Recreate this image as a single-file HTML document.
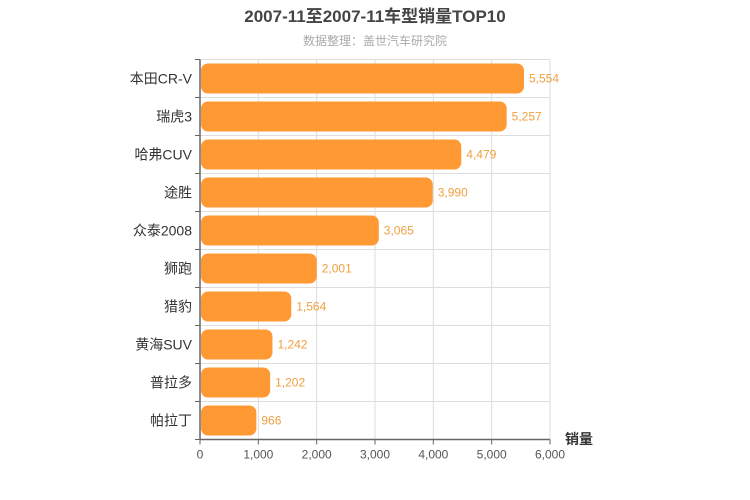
<!DOCTYPE html>
<html><head><meta charset="utf-8"><style>
body{margin:0;background:#fff;}
svg{display:block;font-family:"Liberation Sans","Noto Sans CJK SC",sans-serif;}
</style></head><body>
<svg width="750" height="500">
<text x="375" y="22" text-anchor="middle" font-size="17" font-weight="bold" fill="#444">2007-11至2007-11车型销量TOP10</text>
<text x="375" y="45" text-anchor="middle" font-size="12" fill="#aaa">数据整理：盖世汽车研究院</text>
<g id="grid"></g><g id="bars"></g><g id="axes"></g>
<text x="565" y="444" font-size="14" font-weight="bold" fill="#333">销量</text>
</svg>
<script>
const categories=["本田CR-V","瑞虎3","哈弗CUV","途胜","众泰2008","狮跑","猎豹","黄海SUV","普拉多","帕拉丁"];
const values=[5554,5257,4479,3990,3065,2001,1564,1242,1202,966];
const ticks=[0,1000,2000,3000,4000,5000,6000];
const tickLabels=["0","1,000","2,000","3,000","4,000","5,000","6,000"];
const X0=200,X1=550,Y0=59.5,Y1=439.5,MAX=6000;
const xs=v=>X0+(X1-X0)*v/MAX;
const rowH=(Y1-Y0)/categories.length;
const ys=i=>Y0+rowH*i;
const NS="http://www.w3.org/2000/svg";
function mk(t,a,p){const e=document.createElementNS(NS,t);for(const k in a)e.setAttribute(k,a[k]);p.appendChild(e);return e;}
const grid=document.getElementById('grid'),bars=document.getElementById('bars'),axes=document.getElementById('axes');
ticks.forEach((t,i)=>{
 if(i>0){const l=mk('line',{x1:xs(t),x2:xs(t),y1:Y0,y2:Y1,stroke:'#ddd'},grid);
 
 }
 const tk=mk('line',{x1:xs(t),x2:xs(t),y1:Y1,y2:Y1+5,stroke:'#666'},axes);
 
 
 const tx=mk('text',{x:xs(t),y:Y1+19,'text-anchor':'middle','font-size':12,fill:'#555'},axes);
 tx.textContent=tickLabels[i];
 
 
});
categories.forEach((c,i)=>{
 const hl=mk('line',{x1:X0,x2:X1,y1:ys(i),y2:ys(i),stroke:'#ddd'},grid);
 
 
 const yt=mk('line',{x1:X0-5,x2:X0,y1:ys(i),y2:ys(i),stroke:'#666'},axes);
 
 
 const b=mk('rect',{x:X0+1,y:ys(i)+4,width:xs(values[i])-X0-1,height:rowH-8,rx:7,fill:'#ff9933'},bars);
 
 
 const v=mk('text',{x:xs(values[i])+5,y:ys(i)+rowH/2+4,'font-size':12,fill:'#f0a040'},bars);
 v.textContent=values[i].toLocaleString('en-US');
 
 
 const l=mk('text',{x:X0-8,y:ys(i)+rowH/2+5,'text-anchor':'end','font-size':14,fill:'#333'},axes);
 l.textContent=c;
 
 
});
const bt=mk('line',{x1:X0-5,x2:X0,y1:Y1,y2:Y1,stroke:'#666'},axes);


const ya=mk('line',{x1:X0,x2:X0,y1:Y0,y2:Y1,stroke:'#666','stroke-width':1.5},axes);


const xa=mk('line',{x1:X0,x2:X1,y1:Y1,y2:Y1,stroke:'#666','stroke-width':1.5},axes);


</script>
</body></html>
